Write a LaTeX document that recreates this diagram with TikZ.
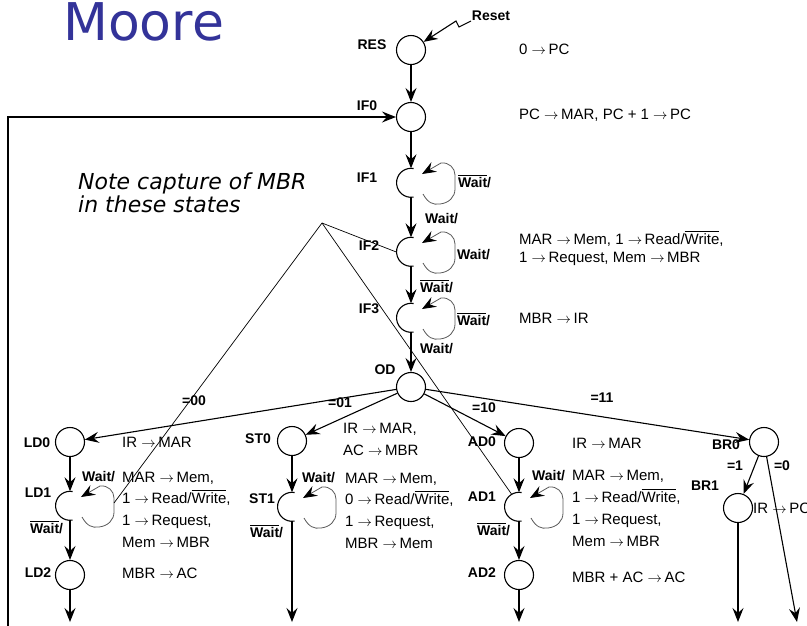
\documentclass[tikz,border=0pt]{standalone}
\usepackage{fontspec}
\setmainfont{Liberation Sans}
\newfontfamily\notefont{DejaVu Sans}
\newfontfamily\titlefont{DejaVu Sans}
\usetikzlibrary{arrows.meta}
\definecolor{titleblue}{RGB}{51,51,153}
\newcommand\ovl[1]{\leavevmode\vbox{\hrule height 1pt\kern 1.3pt\hbox{#1}}}
\newcommand\ra{$\rightarrow$\,}
\newcommand\carc[1]{\draw[plain] (#1.80) arc[start angle=80, end angle=280, radius=14.5pt];}
\newcommand\waitloop[1]{\draw[loopline, shift={(#1)}] (12,11) .. controls (17,20) and (22,22) .. (29,21) .. controls (38,20) and (44,14) .. (44,6) -- (44,-8) .. controls (44,-15) and (38,-21) .. (30,-20) -- (11,-9);}
\begin{document}
\begin{tikzpicture}[x=1pt,y=-1pt,
 st/.style={circle,draw,line width=1.1pt,minimum size=29pt,inner sep=0pt},
 cst/.style={circle,minimum size=29pt,inner sep=0pt},
 lbl/.style={font=\bfseries\fontsize{14}{14}\selectfont,inner sep=0pt,anchor=base},
 wlbl/.style={lbl,anchor=base west},
 act/.style={font=\fontsize{15}{16}\selectfont,inner sep=0pt,anchor=base west},
 edge/.style={draw,line width=1.1pt,-{Stealth[length=14pt,width=11pt,inset=5pt]}},
 plain/.style={line width=1.1pt},
 loopline/.style={line width=0.8pt,draw=black!65,-{Stealth[length=14pt,width=11pt,inset=5pt,black]}},
 note/.style={line width=0.7pt}]
\useasboundingbox (0,0) rectangle (807,625);

% title
\node[font=\titlefont\fontsize{52}{52}\selectfont,text=titleblue,inner sep=0pt,anchor=base west] (title) at (63,40) {Moore};

% states
\node[st]  (RES) at (411,50) {};
\node[st]  (IF0) at (411,117) {};
\node[cst] (IF1) at (411,183) {};
\node[cst] (IF2) at (411,252) {};
\node[cst] (IF3) at (411,318) {};
\node[st]  (OD)  at (411,387) {};
\node[st]  (LD0) at (70,442) {};
\node[cst] (LD1) at (70,506) {};
\node[st]  (LD2) at (70,575) {};
\node[st]  (ST0) at (292,441) {};
\node[cst] (ST1) at (292,507) {};
\node[st]  (AD0) at (519,443) {};
\node[cst] (AD1) at (519,507) {};
\node[st]  (AD2) at (519,575) {};
\node[st]  (BR0) at (764,442) {};
\node[st]  (BR1) at (738,508) {};

\carc{IF1}\carc{IF2}\carc{IF3}\carc{LD1}\carc{ST1}\carc{AD1}
\waitloop{IF1}\waitloop{IF2}\waitloop{IF3}\waitloop{LD1}\waitloop{ST1}\waitloop{AD1}

% state labels
\node[lbl] (lRES) at (372,49) {RES};
\node[lbl] (lIF0) at (367,110) {IF0};
\node[lbl] (lIF1) at (367,182) {IF1};
\node[lbl] (lIF2) at (369,250) {IF2};
\node[lbl] (lIF3) at (369,313) {IF3};
\node[lbl] (lOD)  at (385,374) {OD};
\node[lbl] (lLD0) at (37,447) {LD0};
\node[lbl] (lLD1) at (38,497) {LD1};
\node[lbl] (lLD2) at (38,577) {LD2};
\node[lbl] (lST0) at (258,443) {ST0};
\node[lbl] (lST1) at (262,503) {ST1};
\node[lbl] (lAD0) at (482,446) {AD0};
\node[lbl] (lAD1) at (482,501) {AD1};
\node[lbl] (lAD2) at (482,577) {AD2};
\node[lbl] (lBR0) at (726,449) {BR0};
\node[lbl] (lBR1) at (705,490) {BR1};

% reset
\node[lbl] (reset) at (491,20) {Reset};
\coordinate (z1) at (459,27);
\coordinate (z2) at (456,21);
\draw[edge] (471,21) -- (z1) -- (z2) -- (RES);

% feedback
\coordinate (fb) at (8,627);
\draw[edge] (fb) |- (IF0);

% main column edges
\draw[edge] (RES) -- (IF0);
\draw[edge] (IF0) -- (IF1);
\draw[edge] (IF1) -- (IF2);
\draw[edge] (IF2) -- (IF3);
\draw[edge] (IF3) -- (OD);

% branches
\draw[edge] (OD) -- (LD0);
\draw[edge] (OD) -- (ST0);
\draw[edge] (OD) -- (AD0);
\draw[edge] (OD) -- (BR0);
\node[lbl] (c00) at (194,405) {=00};
\node[lbl] (c01) at (340,407) {=01};
\node[lbl] (c10) at (484,412) {=10};
\node[lbl] (c11) at (602,402) {=11};

\coordinate (ldout) at (70,622);
\coordinate (stout) at (292,622);
\coordinate (adout) at (519,622);
\coordinate (br1out) at (738,622);
\coordinate (br0out) at (797,622);
\draw[edge] (LD0) -- (LD1);
\draw[edge] (LD1) -- (LD2);
\draw[edge] (LD2) -- (ldout);
\draw[edge] (ST0) -- (ST1);
\draw[edge] (ST1) -- (stout);
\draw[edge] (AD0) -- (AD1);
\draw[edge] (AD1) -- (AD2);
\draw[edge] (AD2) -- (adout);
\draw[edge] (BR0) -- (BR1);
\draw[edge] (BR1) -- (br1out);
\draw[edge] (BR0.-80) -- (br0out);
\node[lbl] (c1) at (735,470) {=1};
\node[lbl] (c0) at (782,470) {=0};

% wait labels
\node[wlbl] (w1) at (458,187) {\ovl{Wait}/};
\node[wlbl] (w2) at (425,223) {Wait/};
\node[wlbl] (w3) at (457,259) {Wait/};
\node[wlbl] (w4) at (420,292) {\ovl{Wait}/};
\node[wlbl] (w5) at (457,325) {\ovl{Wait}/};
\node[wlbl] (w6) at (420,353) {Wait/};
\node[wlbl] (w7) at (82,481) {Wait/};
\node[wlbl] (w8) at (30,533) {\ovl{Wait}/};
\node[wlbl] (w9) at (302,482) {Wait/};
\node[wlbl] (w10) at (250,537) {\ovl{Wait}/};
\node[wlbl] (w11) at (532,480) {Wait/};
\node[wlbl] (w12) at (477,535) {\ovl{Wait}/};

% actions
\node[act] (a1) at (519,54) {0 \ra PC};
\node[act] (a2) at (519,119) {PC \ra MAR, PC + 1 \ra PC};
\node[act] (a3) at (519,244) {MAR \ra Mem, 1 \ra Read/\ovl{Write},};
\node[act] (a4) at (519,262) {1 \ra Request, Mem \ra MBR};
\node[act] (a5) at (519,323) {MBR \ra IR};

\node[act] (b1) at (122,447) {IR \ra MAR};
\node[act] (b2) at (122,482) {MAR \ra Mem,};
\node[act] (b3) at (122,503) {1 \ra Read/\ovl{Write},};
\node[act] (b4) at (122,525) {1 \ra Request,};
\node[act] (b5) at (122,547) {Mem \ra MBR};
\node[act] (b6) at (122,578) {MBR \ra AC};

\node[act] (s1) at (343,433) {IR \ra MAR,};
\node[act] (s2) at (343,455) {AC \ra MBR};
\node[act] (s3) at (345,483) {MAR \ra Mem,};
\node[act] (s4) at (345,504) {0 \ra Read/\ovl{Write},};
\node[act] (s5) at (345,526) {1 \ra Request,};
\node[act] (s6) at (345,548) {MBR \ra Mem};

\node[act] (d1) at (572,448) {IR \ra MAR};
\node[act] (d2) at (572,480) {MAR \ra Mem,};
\node[act] (d3) at (572,502) {1 \ra Read/\ovl{Write},};
\node[act] (d4) at (572,524) {1 \ra Request,};
\node[act] (d5) at (572,546) {Mem \ra MBR};
\node[act] (d6) at (572,582) {MBR + AC \ra AC};

\node[act] (r1) at (753,513) {IR \ra PC};

% note
\node[font=\notefont\itshape\fontsize{22}{22}\selectfont,inner sep=0pt,anchor=base west] (note1) at (78,189) {Note capture of MBR};
\node[font=\notefont\itshape\fontsize{22}{22}\selectfont,inner sep=0pt,anchor=base west] (note2) at (78,212) {in these states};
\coordinate (apex) at (322,223);
\coordinate (ldloop) at (114,503);
\draw[note] (IF2.west) -- (apex) -- (ldloop);
\draw[note] (apex) -- (AD1.120);
\end{tikzpicture}
\end{document}
